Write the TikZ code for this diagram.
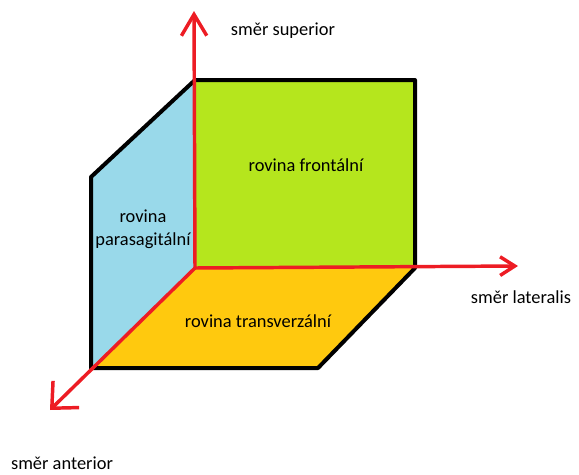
\documentclass[tikz,border=0pt]{standalone}
\usepackage{fontspec}
\setmainfont{Carlito}
\usetikzlibrary{arrows.meta}
\definecolor{frontgreen}{HTML}{B5E61D}
\definecolor{sideblue}{HTML}{99D9EA}
\definecolor{floorgold}{HTML}{FFC90E}
\definecolor{axisred}{HTML}{ED1C24}
\tikzset{
  rim/.style={draw=black, line width=3pt, line cap=round, line join=round},
  axis/.style={draw=axisred, line width=2.6pt, line cap=round},
  label/.style={font=\fontsize{13.8}{17.5}\selectfont, text=black, inner sep=0pt, align=center}
}
\begin{document}
\begin{tikzpicture}[x=0.75pt, y=-0.75pt]
  \useasboundingbox (0,0) rectangle (579,475);
  % corner points of the three planes
  \coordinate (O)  at (195,268);
  \coordinate (T)  at (195,80);
  \coordinate (TR) at (415,80);
  \coordinate (R)  at (415,268);
  \coordinate (LT) at (91,177);
  \coordinate (LB) at (91,368);
  \coordinate (FB) at (318,368);
  % axis tips
  \coordinate (up)    at (194,11);
  \coordinate (right) at (518,266);
  \coordinate (front) at (50,410);

  % planes
  \fill[frontgreen] (O) -- (T) -- (TR) -- (R) -- cycle;
  \fill[sideblue]   (O) -- (T) -- (LT) -- (LB) -- cycle;
  \fill[floorgold]  (O) -- (R) -- (FB) -- (LB) -- cycle;

  % outer edges
  \draw[rim] (LB) -- (LT) -- (T) -- (TR) -- (R) -- (FB) -- cycle;

  % direction axes
  \draw[axis, -{Straight Barb[length=16pt, width=19pt, line width=2.6pt]}] (O) -- (up);
  \draw[axis, -{Straight Barb[length=11pt, width=14pt, line width=2.6pt]}] (O) -- (right);
  \draw[axis, -{Straight Barb[length=15pt, width=28pt, line width=2.6pt]}] (O) -- (front);

  % labels
  \node[label] (sup)  at (283,31)  {směr superior};
  \node[label] (fro)  at (306,165) {rovina frontální};
  \node[label] (par)  at (143,229) {rovina\\parasagitální};
  \node[label] (tra)  at (258,321) {rovina transverzální};
  \node[label] (lat)  at (521,297) {směr lateralis};
  \node[label] (ant)  at (62,463)  {směr anterior};
\end{tikzpicture}
\end{document}
